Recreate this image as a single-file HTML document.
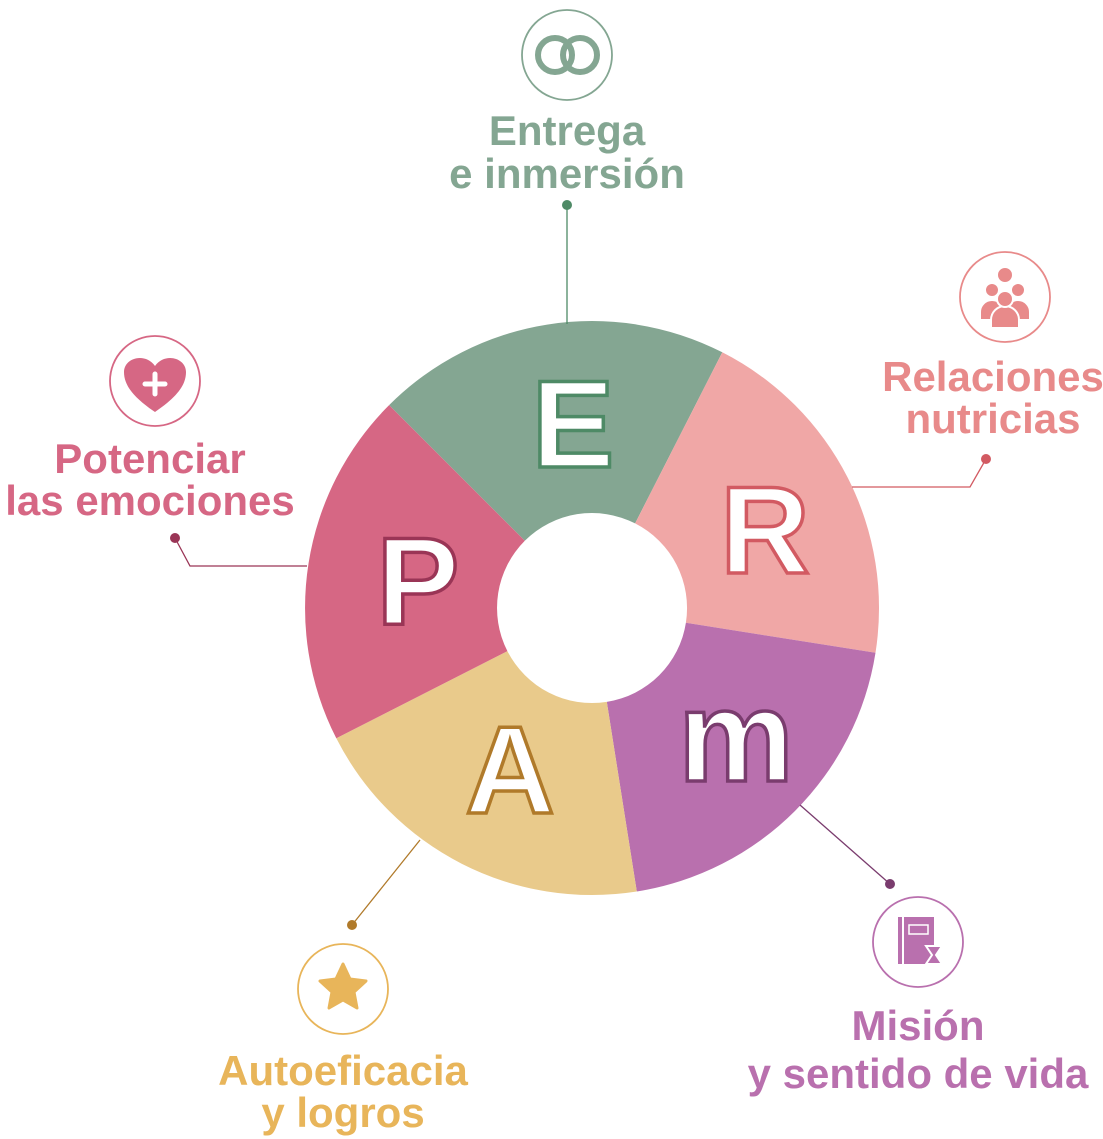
<!DOCTYPE html>
<html><head><meta charset="utf-8"><style>
html,body{margin:0;padding:0;background:#fff;}
svg{display:block}
text{font-family:"Liberation Sans",sans-serif;font-weight:bold}
</style></head><body>
<svg width="1103" height="1139" viewBox="0 0 1103 1139" xmlns="http://www.w3.org/2000/svg">
<path d="M389.1,405.1 A287,287 0 0 1 722.3,352.3 L635.1,523.4 A95,95 0 0 0 524.8,540.8 Z" fill="#84a692"/>
<path d="M722.3,352.3 A287,287 0 0 1 875.5,652.8 L685.9,622.8 A95,95 0 0 0 635.1,523.4 Z" fill="#f0a7a6"/>
<path d="M875.5,652.8 A287,287 0 0 1 636.8,891.5 L606.8,701.9 A95,95 0 0 0 685.9,622.8 Z" fill="#b970ae"/>
<path d="M636.8,891.5 A287,287 0 0 1 336.3,738.3 L507.4,651.1 A95,95 0 0 0 606.8,701.9 Z" fill="#e9ca8b"/>
<path d="M336.3,738.3 A287,287 0 0 1 389.1,405.1 L524.8,540.8 A95,95 0 0 0 507.4,651.1 Z" fill="#d66784"/>
<g font-size="124" fill="#fff" stroke-width="3.5" text-anchor="middle">
<text x="573" y="467" stroke="#4e8a66">E</text>
<text x="765" y="573" stroke="#d25a62">R</text>
<text x="736" y="781" stroke="#7a3c6e" font-size="130">m</text>
<text x="510" y="813" stroke="#b07a2a">A</text>
<text x="418" y="624" stroke="#9a3556">P</text>
</g>
<g fill="none" stroke-width="1.3">
<path d="M567,205 V324" stroke="#4e8a66"/>
<path d="M986,459 L970,487 H852" stroke="#d25a62"/>
<path d="M175,538 L190,566 H307" stroke="#9a3556"/>
<path d="M890,884 L800,805" stroke="#7a3c6e"/>
<path d="M352,925 L420,840" stroke="#b07a2a"/>
</g>
<circle cx="567" cy="205" r="5" fill="#4e8a66"/>
<circle cx="986" cy="459" r="5" fill="#d25a62"/>
<circle cx="175" cy="538" r="5" fill="#9a3556"/>
<circle cx="890" cy="884" r="5" fill="#7a3c6e"/>
<circle cx="352" cy="925" r="5" fill="#b07a2a"/>
<g fill="#fff" stroke-width="1.8">
<circle cx="567" cy="55" r="45" stroke="#84a692"/>
<circle cx="1005" cy="297" r="45" stroke="#e88a8a"/>
<circle cx="155" cy="381" r="45" stroke="#d66784"/>
<circle cx="918" cy="942" r="45" stroke="#b970ae"/>
<circle cx="343" cy="989" r="45" stroke="#e8b55a"/>
</g>
<circle cx="555" cy="55" r="17" fill="none" stroke="#84a692" stroke-width="6"/>
<circle cx="580" cy="55" r="17" fill="none" stroke="#84a692" stroke-width="6"/>
<g fill="#e88a8a" stroke="#fff" stroke-width="2">
<circle cx="1005" cy="275" r="8"/>
<path d="M980,312 a12,12 0 0 1 24,0 v8 h-24z"/><circle cx="992" cy="290" r="7"/>
<path d="M1006,312 a12,12 0 0 1 24,0 v8 h-24z"/><circle cx="1018" cy="290" r="7"/>
<path d="M991,320 a14,14 0 0 1 28,0 v8 h-28z"/><circle cx="1005" cy="299" r="8"/>
</g>
<path d="M155,412 C130,395 124,383 124,372 C124,358 145,352 155,366 C165,352 186,358 186,372 C186,383 180,395 155,412Z" fill="#d66784"/>
<path d="M155,374 v20 M145,384 h20" stroke="#fff" stroke-width="5" stroke-linecap="round"/>
<rect x="898" y="917" width="36" height="47" fill="#b970ae"/>
<rect x="902" y="917" width="2" height="47" fill="#fff"/>
<rect x="909" y="925" width="19" height="9" fill="none" stroke="#fff" stroke-width="1.5"/>
<path d="M926,946 h16 l-6,9 6,9 h-16 l6,-9z" fill="#b970ae" stroke="#fff" stroke-width="2"/>
<path d="M343,964 l7,15 16,2 -12,11 3,16 -14,-8 -14,8 3,-16 -12,-11 16,-2z" fill="#e8b55a" stroke="#e8b55a" stroke-width="3" stroke-linejoin="round"/>
<g font-size="42" text-anchor="middle">
<text x="567" y="145" fill="#84a692">Entrega</text>
<text x="567" y="188" fill="#84a692">e inmersión</text>
<text x="993" y="391" fill="#e88a8a">Relaciones</text>
<text x="993" y="433" fill="#e88a8a">nutricias</text>
<text x="150" y="473" fill="#d66784">Potenciar</text>
<text x="150" y="515" fill="#d66784">las emociones</text>
<text x="918" y="1040" fill="#b970ae">Misión</text>
<text x="918" y="1088" fill="#b970ae">y sentido de vida</text>
<text x="343" y="1085" fill="#e8b55a">Autoeficacia</text>
<text x="343" y="1127" fill="#e8b55a">y logros</text>
</g>
</svg>
</body></html>
